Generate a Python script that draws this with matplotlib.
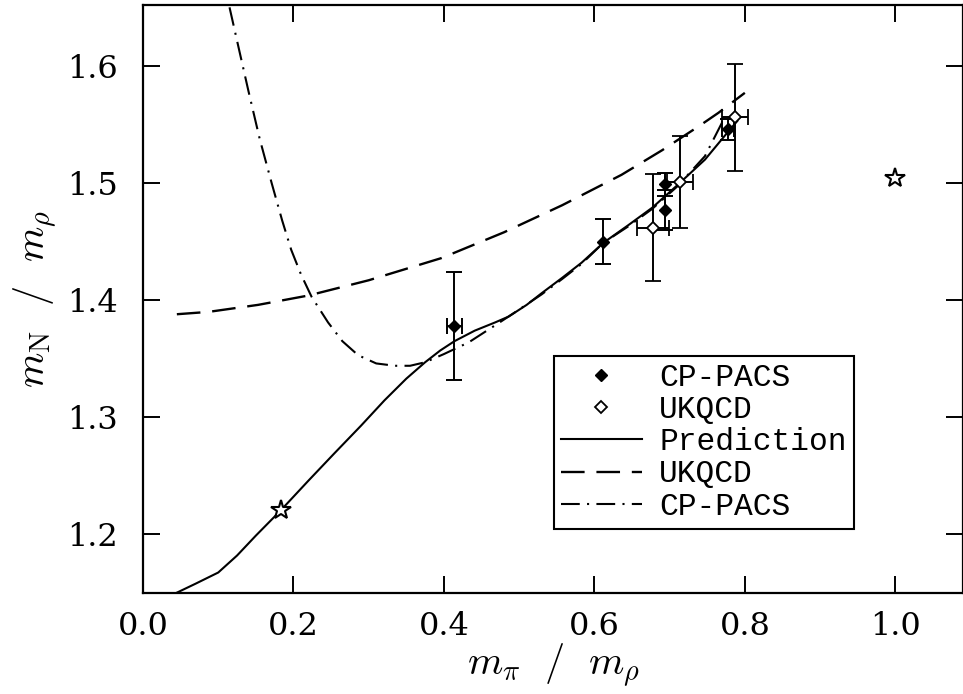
import matplotlib
matplotlib.use("Agg")
import matplotlib.pyplot as plt
from matplotlib.lines import Line2D

plt.rcParams["mathtext.fontset"] = "cm"
plt.rcParams["font.family"] = ["DejaVu Serif"]

# CP-PACS lattice points (filled diamonds)
cp_x = [0.414, 0.612, 0.694, 0.694, 0.777]
cp_y = [1.378, 1.450, 1.499, 1.477, 1.546]
cp_yerr = [0.046, 0.019, 0.010, 0.017, 0.009]
cp_xerr = [0.010, 0.0, 0.0, 0.0, 0.008]

# UKQCD lattice points (open diamonds)
uk_x = [0.678, 0.714, 0.787]
uk_y = [1.462, 1.501, 1.556]
uk_yerr = [0.046, 0.039, 0.046]
uk_xerr = [0.021, 0.017, 0.017]

# physical points (stars)
star_x = [0.183, 1.0]
star_y = [1.2205, 1.504]

# prediction curve
pred_x = [0.044, 0.07, 0.10, 0.125, 0.15, 0.183, 0.22, 0.254, 0.29, 0.321,
          0.35, 0.375, 0.395, 0.414, 0.441, 0.468, 0.486, 0.51, 0.530, 0.557,
          0.583, 0.612, 0.645, 0.677, 0.71, 0.747, 0.778, 0.790]
pred_y = [1.150, 1.158, 1.1675, 1.182, 1.199, 1.2205, 1.246, 1.269, 1.293, 1.3145,
          1.333, 1.347, 1.357, 1.365, 1.374, 1.381, 1.386, 1.396, 1.406, 1.419,
          1.432, 1.449, 1.464, 1.479, 1.498, 1.520, 1.544, 1.553]

# UKQCD fit curve
ukfit_x = [0.045, 0.087, 0.153, 0.22, 0.30, 0.397, 0.48, 0.557, 0.636,
           0.69, 0.74, 0.765, 0.80]
ukfit_y = [1.388, 1.390, 1.396, 1.404, 1.417, 1.436, 1.458, 1.481, 1.507,
           1.528, 1.549, 1.560, 1.577]

# CP-PACS fit curve
cpfit_x = [0.115, 0.128, 0.140, 0.155, 0.171, 0.185, 0.197, 0.21, 0.224,
           0.246, 0.265, 0.286, 0.31, 0.335, 0.355, 0.375, 0.40, 0.433, 0.474,
           0.50, 0.53, 0.557, 0.583, 0.612, 0.645, 0.677, 0.71, 0.747, 0.77]
cpfit_y = [1.650, 1.613, 1.579, 1.538, 1.500, 1.468, 1.443, 1.422, 1.403,
           1.381, 1.365, 1.353, 1.346, 1.344, 1.344, 1.347, 1.354, 1.364, 1.381,
           1.392, 1.405, 1.418, 1.431, 1.449, 1.463, 1.478, 1.497, 1.523, 1.552]

fig = plt.figure(figsize=(9.63, 6.94), dpi=100)
ax = fig.add_axes([0.1485, 0.1455, 0.8515, 0.8473])

ax.plot(pred_x, pred_y, color="black", lw=1.5)
ax.plot(ukfit_x, ukfit_y, color="black", lw=1.7, linestyle=(0, (10, 5)))
ax.plot(cpfit_x, cpfit_y, color="black", lw=1.5, linestyle=(0, (9, 3.5, 1, 3.5)))

ax.errorbar(cp_x, cp_y, yerr=cp_yerr, xerr=cp_xerr, fmt="D", color="black",
            ms=6, mfc="black", mec="black", elinewidth=1.4, capsize=6, capthick=1.4)
ax.errorbar(uk_x, uk_y, yerr=uk_yerr, xerr=uk_xerr, fmt="D", color="black",
            ms=6, mfc="white", mec="black", mew=1.3, elinewidth=1.4, capsize=6,
            capthick=1.4)
ax.plot(star_x, star_y, linestyle="none", marker="*", ms=15, mfc="white",
        mec="black", mew=1.5)

ax.set_xlim(0.0, 1.09)
ax.set_ylim(1.15, 1.652)
ax.set_xticks([0.0, 0.2, 0.4, 0.6, 0.8, 1.0])
ax.set_yticks([1.2, 1.3, 1.4, 1.5, 1.6])
ax.tick_params(direction="in", length=12, width=1.4, top=True, right=True,
               labelsize=23)
ax.tick_params(axis="y", pad=18)
ax.tick_params(axis="x", pad=13)
for spine in ax.spines.values():
    spine.set_linewidth(1.6)

ax.set_xlabel(r"$m_\pi\ \ /\ \ m_\rho$", fontsize=29, labelpad=0)
ax.set_ylabel(r"$m_{\rm N}\ \ /\ \ m_\rho$", fontsize=29, labelpad=6)

handles = [
    Line2D([], [], linestyle="none", marker="D", ms=6, mfc="black", mec="black"),
    Line2D([], [], linestyle="none", marker="D", ms=6, mfc="white", mec="black", mew=1.3),
    Line2D([], [], color="black", lw=1.5),
    Line2D([], [], color="black", lw=1.7, linestyle=(0, (10, 5))),
    Line2D([], [], color="black", lw=1.5, linestyle=(0, (9, 3.5, 1, 3.5))),
]
labels = ["CP-PACS", "UKQCD", "Prediction", "UKQCD", "CP-PACS"]
leg = ax.legend(handles, labels, loc="upper left", bbox_to_anchor=(0.501, 0.403),
                borderaxespad=0, fancybox=False, framealpha=1, edgecolor="black",
                prop={"family": "Liberation Mono", "size": 22.5},
                handlelength=2.6, handletextpad=0.55, labelspacing=0.07,
                borderpad=0.22)
leg.get_frame().set_linewidth(1.5)

fig.savefig("out.png", dpi=100)
